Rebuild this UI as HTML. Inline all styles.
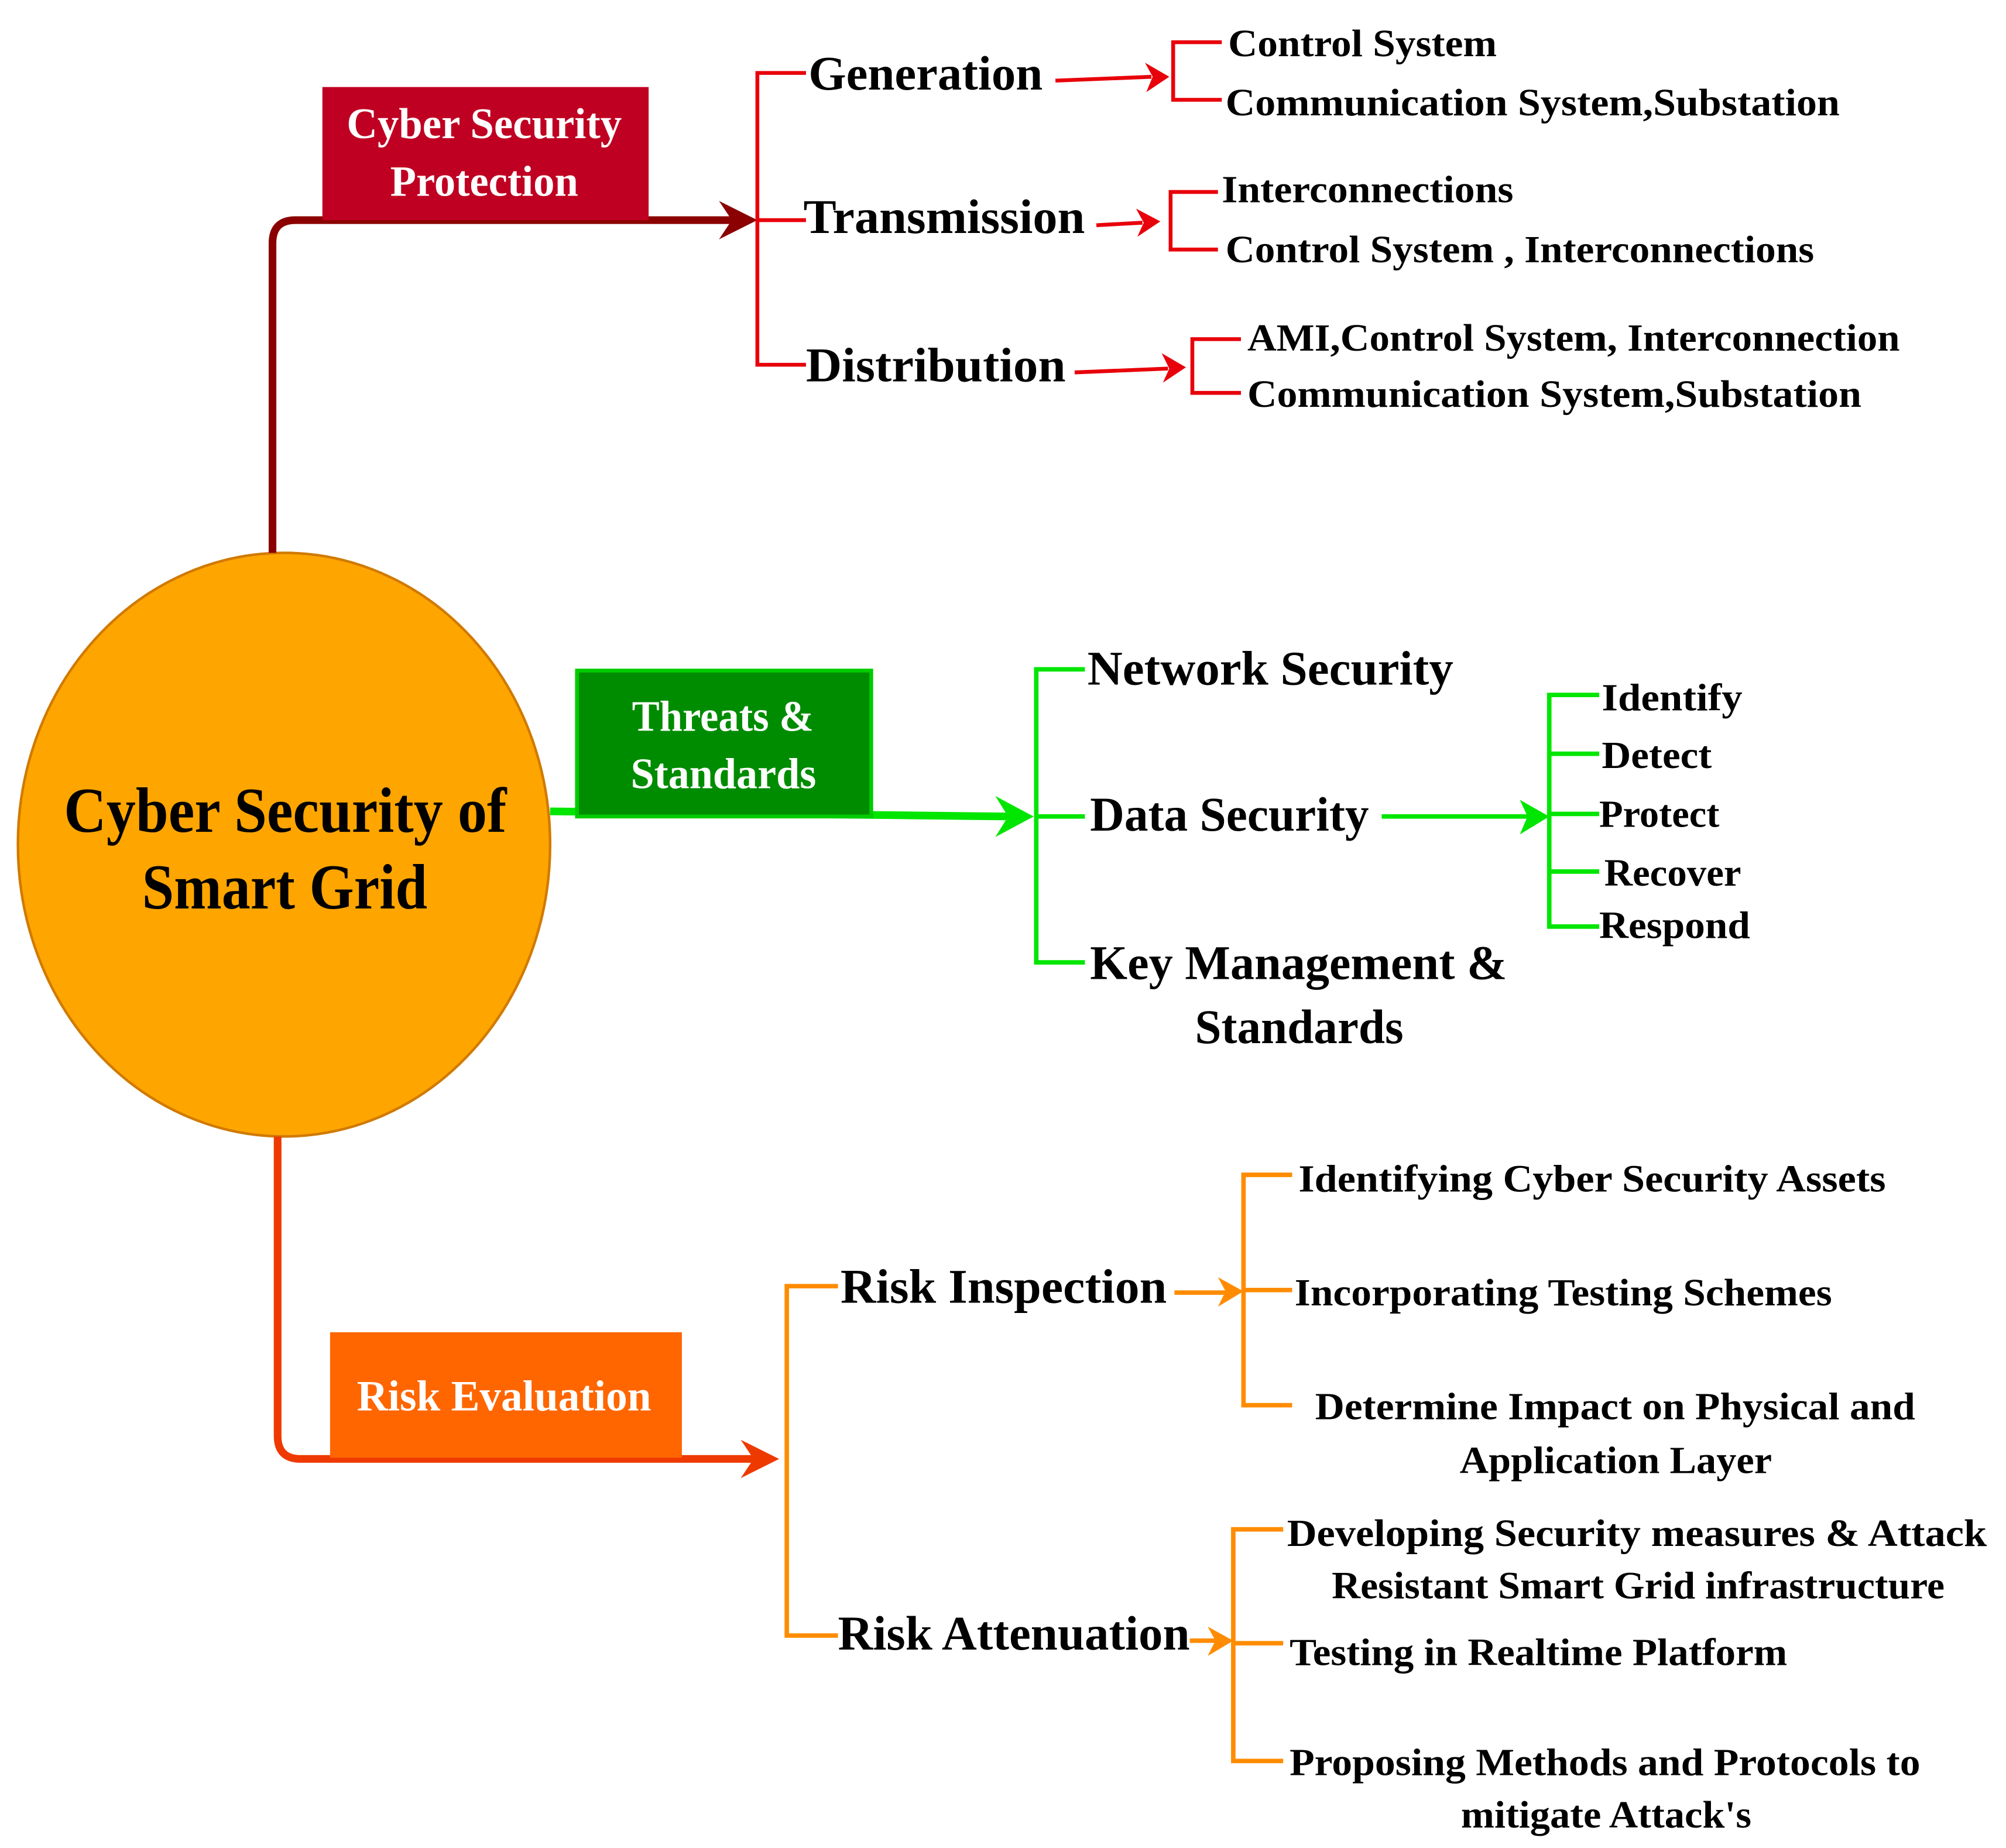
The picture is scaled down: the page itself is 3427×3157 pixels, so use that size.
<!DOCTYPE html>
<html><head><meta charset="utf-8"><style>
html,body{margin:0;padding:0;background:#fff;}
svg{display:block;}
text{font-family:"Liberation Serif",serif;fill:#000;font-weight:bold;}
</style></head><body>
<svg width="3427" height="3157" viewBox="0 0 1568 1444" preserveAspectRatio="none" xmlns="http://www.w3.org/2000/svg">
<ellipse cx="222" cy="660" rx="208" ry="228" fill="#FFA500" stroke="#D07A00" stroke-width="2"/>
<text x="50" y="650" font-size="50" textLength="346" lengthAdjust="spacingAndGlyphs">Cyber Security of</text>
<text x="111" y="710" font-size="50" textLength="223" lengthAdjust="spacingAndGlyphs">Smart Grid</text>

<path d="M213,432 V190 Q213,172 231,172 H575" fill="none" stroke="#8B0000" stroke-width="6"/>
<path d="M562,157 L592,172 L562,187 L572,172 Z" fill="#8B0000"/>
<rect x="252" y="68" width="255" height="104" fill="#BF0022"/>
<text x="271" y="108" font-size="34" style="fill:#fff" textLength="215" lengthAdjust="spacingAndGlyphs">Cyber Security</text>
<text x="305" y="153" font-size="34" style="fill:#fff" textLength="147" lengthAdjust="spacingAndGlyphs">Protection</text>

<g fill="none" stroke="#E8000A" stroke-width="3">
<path d="M630,57 H592 V285 H630 M592,172 H630"/>
<path d="M955,33 H917 V78 H955"/>
<path d="M952,150 H915 V195 H952"/>
<path d="M970,265 H932 V307 H970"/>
<path d="M825,63 L900,60 M857,176 L893,174 M840,291 L913,288"/>
</g>
<g fill="#E8000A">
<path d="M895,49 L914,60 L896,72 L901,60 Z"/>
<path d="M888,163 L907,173 L889,185 L894,174 Z"/>
<path d="M908,276 L927,287 L909,299 L914,288 Z"/>
</g>
<text x="632" y="70" font-size="38" textLength="183" lengthAdjust="spacingAndGlyphs">Generation</text>
<text x="628" y="182" font-size="38" textLength="220" lengthAdjust="spacingAndGlyphs">Transmission</text>
<text x="630" y="298" font-size="38" textLength="203" lengthAdjust="spacingAndGlyphs">Distribution</text>
<text x="960" y="44" font-size="30" textLength="210" lengthAdjust="spacingAndGlyphs">Control System</text>
<text x="958" y="90" font-size="30" textLength="480" lengthAdjust="spacingAndGlyphs">Communication System,Substation</text>
<text x="955" y="158" font-size="30" textLength="228" lengthAdjust="spacingAndGlyphs">Interconnections</text>
<text x="958" y="205" font-size="30" textLength="460" lengthAdjust="spacingAndGlyphs">Control System , Interconnections</text>
<text x="975" y="274" font-size="30" textLength="510" lengthAdjust="spacingAndGlyphs">AMI,Control System, Interconnection</text>
<text x="975" y="318" font-size="30" textLength="480" lengthAdjust="spacingAndGlyphs">Communication System,Substation</text>

<path d="M430,634 L790,638" fill="none" stroke="#00E600" stroke-width="6"/>
<path d="M778,622 L808,638 L778,654 L788,638 Z" fill="#00E600"/>
<rect x="451" y="524" width="230" height="114" fill="#008C00" stroke="#00CC00" stroke-width="3"/>
<text x="494" y="571" font-size="34" style="fill:#fff" textLength="142" lengthAdjust="spacingAndGlyphs">Threats &amp;</text>
<text x="493" y="616" font-size="34" style="fill:#fff" textLength="145" lengthAdjust="spacingAndGlyphs">Standards</text>
<g fill="none" stroke="#00E600" stroke-width="3.5">
<path d="M848,523 H810 V752 H848 M810,638 H848"/>
<path d="M1080,638 L1196,638"/>
<path d="M1250,543 H1211 V724 H1250 M1211,589 H1250 M1211,636 H1250 M1211,681 H1250"/>
</g>
<path d="M1188,625 L1211,638 L1188,652 L1194,638 Z" fill="#00E600"/>
<text x="850" y="535" font-size="38" textLength="286" lengthAdjust="spacingAndGlyphs">Network Security</text>
<text x="852" y="649" font-size="38" textLength="218" lengthAdjust="spacingAndGlyphs">Data Security</text>
<text x="852" y="765" font-size="38" textLength="326" lengthAdjust="spacingAndGlyphs">Key Management &amp;</text>
<text x="934" y="815" font-size="38" textLength="163" lengthAdjust="spacingAndGlyphs">Standards</text>
<text x="1252" y="555" font-size="30" textLength="110" lengthAdjust="spacingAndGlyphs">Identify</text>
<text x="1252" y="600" font-size="30" textLength="86" lengthAdjust="spacingAndGlyphs">Detect</text>
<text x="1250" y="646" font-size="30" textLength="94" lengthAdjust="spacingAndGlyphs">Protect</text>
<text x="1254" y="692" font-size="30" textLength="107" lengthAdjust="spacingAndGlyphs">Recover</text>
<text x="1250" y="733" font-size="30" textLength="118" lengthAdjust="spacingAndGlyphs">Respond</text>

<path d="M217,888 V1122 Q217,1140 235,1140 H592" fill="none" stroke="#EE3A00" stroke-width="6"/>
<path d="M579,1125 L609,1140 L579,1155 L589,1140 Z" fill="#EE3A00"/>
<rect x="258" y="1041" width="275" height="98" fill="#FF6600"/>
<text x="279" y="1102" font-size="34" style="fill:#fff" textLength="230" lengthAdjust="spacingAndGlyphs">Risk Evaluation</text>
<g fill="none" stroke="#FF8C00" stroke-width="3.5">
<path d="M655,1005 H615 V1278 H655"/>
<path d="M918,1010 L958,1010"/>
<path d="M1010,918 H972 V1098 H1010 M972,1008 H1010"/>
<path d="M930,1282 L950,1282"/>
<path d="M1003,1195 H964 V1376 H1003 M964,1284 H1003"/>
</g>
<path d="M952,998 L972,1009 L952,1021 L958,1009 Z" fill="#FF8C00"/>
<path d="M944,1271 L964,1282 L944,1294 L950,1282 Z" fill="#FF8C00"/>
<text x="657" y="1018" font-size="38" textLength="255" lengthAdjust="spacingAndGlyphs">Risk Inspection</text>
<text x="655" y="1289" font-size="38" textLength="275" lengthAdjust="spacingAndGlyphs">Risk Attenuation</text>
<text x="1015" y="931" font-size="30" textLength="459" lengthAdjust="spacingAndGlyphs">Identifying Cyber Security Assets</text>
<text x="1012" y="1020" font-size="30" textLength="420" lengthAdjust="spacingAndGlyphs">Incorporating Testing Schemes</text>
<text x="1028" y="1109" font-size="30" textLength="469" lengthAdjust="spacingAndGlyphs">Determine Impact on Physical and</text>
<text x="1141" y="1151" font-size="30" textLength="244" lengthAdjust="spacingAndGlyphs">Application Layer</text>
<text x="1006" y="1208" font-size="30" textLength="547" lengthAdjust="spacingAndGlyphs">Developing Security measures &amp;  Attack</text>
<text x="1041" y="1249" font-size="30" textLength="479" lengthAdjust="spacingAndGlyphs">Resistant Smart Grid infrastructure</text>
<text x="1008" y="1301" font-size="30" textLength="389" lengthAdjust="spacingAndGlyphs">Testing in Realtime Platform</text>
<text x="1008" y="1387" font-size="30" textLength="493" lengthAdjust="spacingAndGlyphs">Proposing Methods and Protocols to</text>
<text x="1142" y="1428" font-size="30" textLength="227" lengthAdjust="spacingAndGlyphs">mitigate Attack's</text>
</svg>
</body></html>
